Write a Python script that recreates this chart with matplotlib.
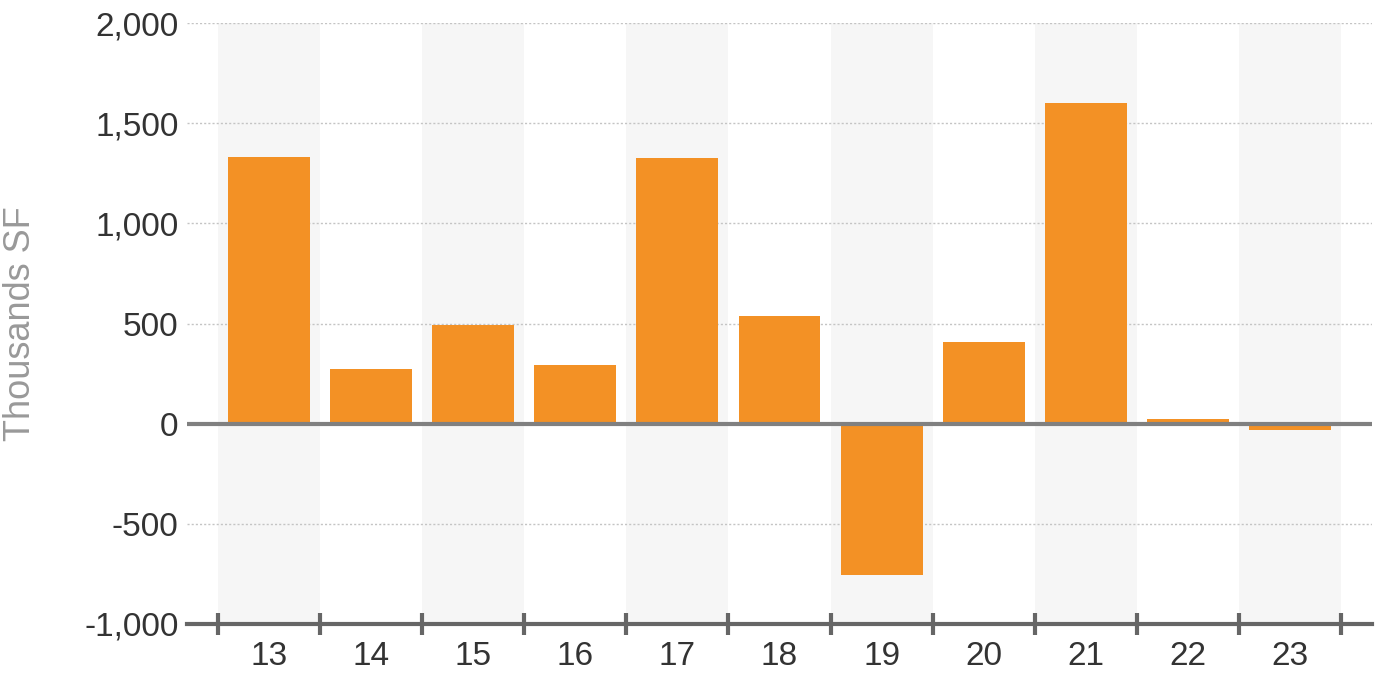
import matplotlib

matplotlib.use("Agg")
import matplotlib.pyplot as plt
import numpy as np

# Net absorption by year, thousands SF
years = ["13", "14", "15", "16", "17", "18", "19", "20", "21", "22", "23"]
values = [1330, 275, 495, 295, 1325, 535, -755, 410, 1600, 25, -30]
y_ticks = [-1000, -500, 0, 500, 1000, 1500, 2000]

plt.rcParams["font.family"] = ["Liberation Sans", "DejaVu Sans"]

fig = plt.figure(figsize=(13.82, 6.8), dpi=100)
ax = fig.add_axes([187 / 1382, 56 / 680, (1372 - 187) / 1382, (624 - 23) / 680])

x = np.arange(len(years))

# alternating background bands
for i in x[::2]:
    ax.axvspan(i - 0.5, i + 0.5, color="#f6f6f6", zorder=0, lw=0)

# dotted gridlines
for t in y_ticks:
    if t not in (0, -1000):
        ax.axhline(t, color="#c4c4c4", lw=1, ls=(0, (1.5, 1.5)), zorder=1)

ax.bar(x, values, width=0.8, color="#f39125", zorder=2)
ax.axhline(0, color="#808080", lw=3, zorder=3)

ax.set_xlim(-0.8, len(years) - 0.2)
ax.set_ylim(-1000, 2000)
ax.set_yticks(y_ticks)
ax.set_yticklabels([f"{t:,}" for t in y_ticks])
ax.set_xticks(x)
ax.set_xticklabels(years)

for s in ["top", "right", "left"]:
    ax.spines[s].set_visible(False)
ax.spines["bottom"].set_color("#666666")
ax.spines["bottom"].set_linewidth(3)
ax.spines["bottom"].set_zorder(4)

ax.tick_params(axis="y", length=0, labelsize=24, labelcolor="#333333", pad=6)
ax.tick_params(axis="x", length=0, labelsize=24, labelcolor="#333333", pad=12)

# category boundary ticks crossing the bottom axis
ax.set_xticks(np.arange(-0.5, len(years)), minor=True)
ax.tick_params(axis="x", which="minor", length=16, width=3, color="#666666",
               direction="inout")

ax.set_ylabel("Thousands SF", fontsize=26, color="#999999")
ax.yaxis.set_label_coords(-0.126, 0.5)

fig.savefig("out.png", dpi=100)
